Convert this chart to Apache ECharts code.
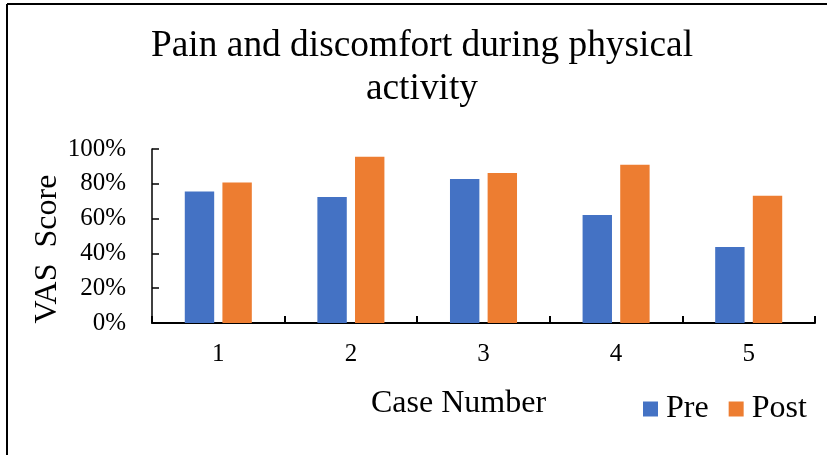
<!DOCTYPE html>
<html>
<head>
<meta charset="utf-8">
<script src="https://cdn.jsdelivr.net/npm/echarts@6/dist/echarts.min.js"></script>
<style>
  html, body { margin: 0; padding: 0; background: #fff; }
  #chart { width: 827px; height: 455px; }
</style>
</head>
<body>
<div id="chart"></div>
<script>
// VAS scores (percent) per case, before and after treatment
const cases = ['1', '2', '3', '4', '5'];
const preScores = [75.6, 72.4, 82.8, 62.1, 43.7];
const postScores = [80.8, 95.6, 86.2, 91.0, 73.2];
const seriesNames = ['Pre', 'Post'];
const titleLines = ['Pain and discomfort during physical', 'activity'];

const serif = '"Liberation Serif", "Times New Roman", serif';

const chart = echarts.init(document.getElementById('chart'), null, { renderer: 'canvas' });

chart.setOption({
  animation: false,
  backgroundColor: '#ffffff',
  title: {
    text: titleLines.join('\n'),
    left: 417,
    textAlign: 'center',
    top: 20,
    textStyle: {
      fontFamily: serif,
      fontWeight: 'normal',
      fontSize: 37.4,
      lineHeight: 43,
      color: '#000'
    }
  },
  legend: {
    data: seriesNames,
    left: 643,
    top: 393,
    padding: 0,
    itemWidth: 15,
    itemHeight: 15,
    itemGap: 20,
    icon: 'rect',
    textStyle: { fontFamily: serif, fontSize: 32, color: '#000', padding: [0, 0, 0, 3] }
  },
  grid: { left: 152, right: 12, top: 149, bottom: 132, containLabel: false },
  xAxis: {
    type: 'category',
    data: cases,
    name: 'Case Number',
    nameLocation: 'middle',
    nameGap: 65,
    nameTextStyle: { fontFamily: serif, fontSize: 32, color: '#000', padding: [0, 50, 0, 0] },
    axisLine: { lineStyle: { color: '#000', width: 2 } },
    axisTick: { show: true, inside: true, length: 7, lineStyle: { color: '#000', width: 2 } },
    axisLabel: { fontFamily: serif, fontSize: 25, color: '#000', margin: 19 }
  },
  yAxis: {
    type: 'value',
    min: 0,
    max: 100,
    interval: 20,
    name: 'VAS  Score',
    nameLocation: 'middle',
    nameGap: 88,
    nameMoveOverlap: false,
    nameTextStyle: { fontFamily: serif, fontSize: 32, color: '#000', padding: [0, 26, 0, 0] },
    axisLine: { show: true, lineStyle: { color: '#000', width: 1.5 } },
    axisTick: { show: true, inside: true, length: 7, lineStyle: { color: '#000', width: 1.5 } },
    splitLine: { show: false },
    axisLabel: {
      fontFamily: serif, fontSize: 25, color: '#000', margin: 26,
      formatter: v => v + '%'
    }
  },
  series: [
    {
      name: seriesNames[0],
      type: 'bar',
      data: preScores,
      barWidth: 29.4,
      barGap: '28%',
      itemStyle: { color: '#4472C4' }
    },
    {
      name: seriesNames[1],
      type: 'bar',
      data: postScores,
      barWidth: 29.4,
      itemStyle: { color: '#ED7D31' }
    }
  ],
  graphic: [
    // frame around the chart area (top and left edges)
    { type: 'line', shape: { x1: 7, y1: 4, x2: 827, y2: 4 }, style: { stroke: '#000', lineWidth: 2 } },
    { type: 'line', shape: { x1: 7, y1: 4, x2: 7, y2: 455 }, style: { stroke: '#000', lineWidth: 2 } }
  ]
});
</script>
</body>
</html>
